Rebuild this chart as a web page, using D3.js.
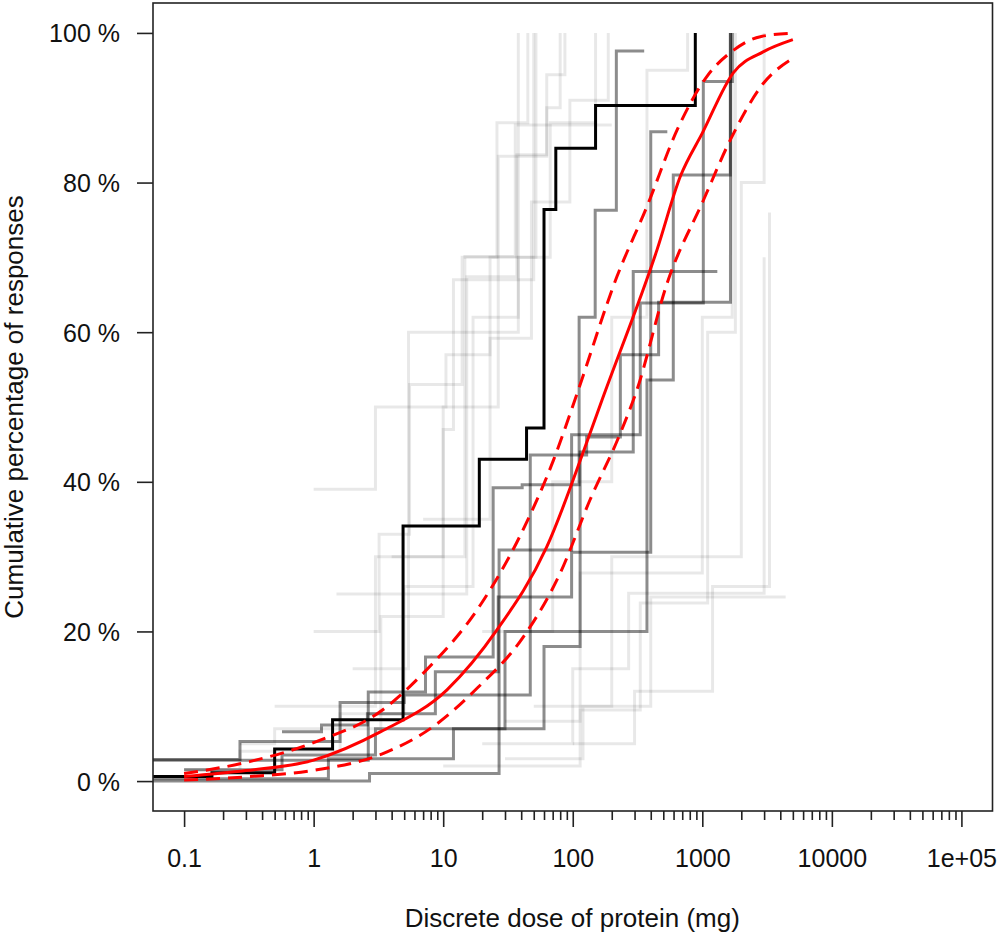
<!DOCTYPE html>
<html><head><meta charset="utf-8">
<script src="https://cdn.jsdelivr.net/npm/d3@7"></script>
<style>
html,body{margin:0;padding:0;background:#fff;}
svg text{font-family:"Liberation Sans",Arial,Helvetica,sans-serif;fill:#111;}
</style></head>
<body>
<svg id="chart" width="1000" height="939"></svg>
<script>
// ---------- data ----------
const yTicks = [0, 20, 40, 60, 80, 100];
const yTickLabels = ["0 %", "20 %", "40 %", "60 %", "80 %", "100 %"];
const xMajor = [0.1, 1, 10, 100, 1000, 10000, 100000];
const xMajorLabels = ["0.1", "1", "10", "100", "1000", "10000", "1e+05"];
const xTitle = "Discrete dose of protein (mg)";
const yTitle = "Cumulative percentage of responses";

// highlighted study (black step line)
const blackDose = [0.03, 0.164, 0.5, 1.4, 4.9, 19, 44, 60, 74, 150, 883];
const blackPct  = [0.6, 1.1, 4.3, 8.2, 34.1, 43.0, 47.2, 76.4, 84.6, 90.3, 100];

// darker grey studies
const darkDoses = [
  [0.03, 2.64, 7.3, 24.3, 40.7, 112, 149, 217, 356],
  [0.03, 2.7, 27, 98, 332, 1018, 1707],
  [0.57, 1.15, 2.6, 8.7, 26.6, 98, 400, 537],
  [0.03, 0.27, 1.6, 5, 47, 128, 233, 460, 1650],
  [0.03, 1.3, 12, 60, 114, 293, 1306],
  [0.1, 0.57, 3, 30, 374, 597, 1645]
];
const darkPcts = [
  [2.8, 11.9, 16.6, 39.2, 39.6, 62.0, 76.3, 97.6, 97.6],
  [0, 1.0, 30.9, 46.3, 63.9, 93.5, 100],
  [6.6, 7.5, 9.0, 14.6, 24.6, 30.6, 86.8, 86.8],
  [2.9, 5.3, 10.5, 11.5, 43.6, 46, 57, 64, 100],
  [0.3, 3, 7, 18, 44, 68.1, 68.1],
  [1.5, 3.5, 7, 20, 53.6, 81, 100]
];

// faint grey studies
const lightDoses = [
  [1, 3, 10.5, 23, 67, 150],
  [1, 3.2, 5.5, 14, 26, 45],
  [0.27, 0.5, 3.3, 10, 12, 50],
  [0.1, 0.27, 1.6, 5, 17, 38],
  [0.5, 3, 14.7, 36, 200],
  [1.5, 15.2, 37, 63, 87],
  [4, 10, 26.6, 63, 80],
  [2, 5.4, 38, 52],
  [7, 23, 48, 95, 188],
  [20, 70, 200, 374, 770],
  [50, 200, 2000, 3000],
  [100, 300, 1200, 3300],
  [30, 120, 400, 4400],
  [10, 114, 332, 1100, 1800],
  [20, 100, 270, 3000],
  [30, 114, 1000, 1700]
];
const lightPcts = [
  [39, 50, 57, 70, 88, 100],
  [20, 33, 53, 70, 88, 100],
  [5, 7, 22, 47, 67, 100],
  [1.5, 4, 9, 26, 62, 100],
  [10, 30, 70.1, 87.7, 87.7],
  [25, 67.4, 83.7, 94.4, 100],
  [30, 50, 83.5, 90, 100],
  [15, 60, 70, 100],
  [35, 59.2, 77.4, 91, 100],
  [20, 40, 62, 95, 100],
  [10, 30, 80, 100],
  [5, 12, 26, 76],
  [3, 10, 24.6, 24.6],
  [2, 9.5, 23.8, 60, 100],
  [5, 15, 25.1, 70],
  [8, 27.8, 62, 95]
];

// fitted curve and confidence band
const fitDose = [0.1, 0.3, 1, 3.3, 10.7, 26, 63, 136, 168, 447, 676, 1000, 1740, 2974, 5000];
const fitPct  = [0.6, 1.4, 2.8, 6.6, 12.2, 20.2, 31.3, 46.5, 50.9, 71, 80.8, 86.6, 94.7, 97.5, 99.1];
const upperDose = [0.1, 0.32, 1.06, 3.4, 7, 19.3, 39, 71, 108, 219, 374, 638, 1087, 1746, 2805, 5000];
const upperPct  = [1.0, 2.6, 5.3, 9.5, 14.4, 23.5, 32.7, 42.9, 51.8, 67.4, 76.8, 87.0, 94.2, 97.7, 99.5, 99.96];
const lowerDose = [0.1, 0.32, 1.06, 3.46, 8.4, 18.5, 41.7, 80, 136, 233, 313, 534, 1024, 1645, 2975, 5000];
const lowerPct  = [0.13, 0.6, 1.5, 3.7, 7.3, 12.5, 19.3, 27.8, 37.6, 46.5, 52.3, 66.5, 77.7, 85.7, 93.3, 96.6];

// ---------- layout ----------
const L = 153, R = 992.5, T = 3, B = 811;
const svg = d3.select("#chart");
const x = d3.scaleLog().domain([Math.pow(10, -1.24), Math.pow(10, 5.24)]).range([L, R]);
const y = d3.scaleLinear().domain([-4, 104]).range([B, T]);

svg.append("defs").append("clipPath").attr("id", "clip")
  .append("rect").attr("x", L).attr("y", T).attr("width", R - L).attr("height", B - T);

const plot = svg.append("g").attr("clip-path", "url(#clip)");
const zip = (a, b) => a.map((d, i) => [d, b[i]]);
const stepLine = d3.line().x(d => x(d[0])).y(d => y(d[1])).curve(d3.curveStepAfter);
const smoothLine = d3.line().x(d => x(d[0])).y(d => y(d[1])).curve(d3.curveMonotoneX);

lightDoses.forEach((ds, i) => {
  plot.append("path").attr("d", stepLine(zip(ds, lightPcts[i])))
    .attr("fill", "none").attr("stroke", "rgba(0,0,0,0.09)").attr("stroke-width", 3);
});
darkDoses.forEach((ds, i) => {
  plot.append("path").attr("d", stepLine(zip(ds, darkPcts[i])))
    .attr("fill", "none").attr("stroke", "rgba(0,0,0,0.45)").attr("stroke-width", 3);
});
plot.append("path").attr("d", stepLine(zip(blackDose, blackPct)))
  .attr("fill", "none").attr("stroke", "#000").attr("stroke-width", 3);

plot.append("path").attr("d", smoothLine(zip(upperDose, upperPct)))
  .attr("fill", "none").attr("stroke", "#ff0000").attr("stroke-width", 3).attr("stroke-dasharray", "14,8");
plot.append("path").attr("d", smoothLine(zip(lowerDose, lowerPct)))
  .attr("fill", "none").attr("stroke", "#ff0000").attr("stroke-width", 3).attr("stroke-dasharray", "14,8");
plot.append("path").attr("d", smoothLine(zip(fitDose, fitPct)))
  .attr("fill", "none").attr("stroke", "#ff0000").attr("stroke-width", 3);

// frame
svg.append("rect").attr("x", L).attr("y", T).attr("width", R - L).attr("height", B - T)
  .attr("fill", "none").attr("stroke", "#222").attr("stroke-width", 1.6);

// y axis
const yAxis = svg.append("g").attr("transform", `translate(${L},0)`)
  .call(d3.axisLeft(y).tickValues(yTicks).tickSize(16).tickPadding(17)
    .tickFormat((d, i) => yTickLabels[i]));
yAxis.select(".domain").remove();
yAxis.selectAll("line").attr("stroke", "#222").attr("stroke-width", 1.6);
yAxis.selectAll("text").attr("font-size", 25).attr("font-family", null).attr("dy", "0.36em");

// x axis minor ticks
const xMinor = [];
for (let e = -1; e < 5; e++) for (let m = 2; m <= 9; m++) xMinor.push(m * Math.pow(10, e));
const xMin = svg.append("g").attr("transform", `translate(0,${B})`)
  .call(d3.axisBottom(x).tickValues(xMinor).tickSize(9).tickFormat(""));
xMin.select(".domain").remove();
xMin.selectAll("line").attr("stroke", "#222").attr("stroke-width", 1.6);

// x axis major ticks
const xAx = svg.append("g").attr("transform", `translate(0,${B})`)
  .call(d3.axisBottom(x).tickValues(xMajor).tickSize(16).tickPadding(22)
    .tickFormat((d, i) => xMajorLabels[i]));
xAx.select(".domain").remove();
xAx.selectAll("line").attr("stroke", "#222").attr("stroke-width", 1.6);
xAx.selectAll("text").attr("font-size", 25).attr("font-family", null);

// titles
svg.append("text").attr("x", (L + R) / 2 - 0.5).attr("y", 927).attr("text-anchor", "middle")
  .attr("font-size", 26).text(xTitle);
svg.append("text").attr("transform", `translate(23,${(T + B) / 2}) rotate(-90)`)
  .attr("text-anchor", "middle").attr("font-size", 26).text(yTitle);
</script>
</body></html>
